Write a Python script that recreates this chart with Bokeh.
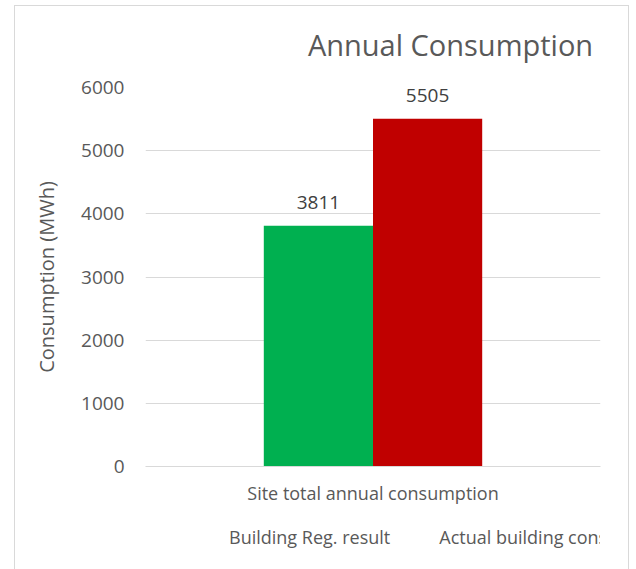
from bokeh.plotting import figure
from bokeh.layouts import column
from bokeh.models import (FactorRange, ColumnDataSource, Legend, LegendItem,
                          LabelSet, Label, FixedTicker)
from bokeh.transform import dodge
from bokeh.embed import file_html
from bokeh.resources import INLINE
from bokeh.core.properties import value

# ---- data ----
categories = ["Site total annual consumption"]
series_names = ["Building Reg. result", "Actual building consumption"]
building_reg = [3811]
actual = [5505]
y_ticks = [0, 1000, 2000, 3000, 4000, 5000, 6000]
colors = ["#00B050", "#C00000"]
title_text = "Annual Consumption"

FONT = "Open Sans"
TXT = "#595959"

src = ColumnDataSource(dict(cat=categories, reg=building_reg, act=actual,
                            reg_lbl=[str(v) for v in building_reg],
                            act_lbl=[str(v) for v in actual]))

# ---- title strip ----
p0 = figure(width=613, height=69, x_range=(0, 1), y_range=(0, 1),
            x_axis_type=None, y_axis_type=None, output_backend="svg",
            toolbar_location=None, min_border=0)
p0.outline_line_color = None
p0.xgrid.visible = False
p0.ygrid.visible = False
p0.add_layout(Label(x=305, y=31, x_units="screen", y_units="screen",
                    text=title_text, text_align="center", text_baseline="middle",
                    text_font=FONT, text_font_size="29px", text_color=TXT))

# ---- main chart ----
p = figure(x_range=FactorRange(*categories), y_range=(0, 6000),
           frame_width=455, frame_height=379, output_backend="svg",
           toolbar_location=None,
           min_border_left=130, min_border_right=28, min_border_top=12,
           min_border_bottom=54)
p.outline_line_color = None
p.x_range.range_padding = 0

r1 = p.vbar(x=dodge("cat", -0.12, range=p.x_range), top="reg", width=0.24,
            source=src, fill_color=colors[0], line_color=None)
r2 = p.vbar(x=dodge("cat", 0.12, range=p.x_range), top="act", width=0.24,
            source=src, fill_color=colors[1], line_color=None)

for xoff, col, lab in [(-0.12, "reg", "reg_lbl"), (0.12, "act", "act_lbl")]:
    p.add_layout(LabelSet(x=dodge("cat", xoff, range=p.x_range), y=col, text=lab,
                          source=src, text_align="center", text_baseline="bottom",
                          y_offset=17, text_font=value(FONT), text_font_size="19px",
                          text_color="#404040"))

p.yaxis.ticker = FixedTicker(ticks=y_ticks)
p.yaxis.axis_line_color = None
p.yaxis.major_tick_line_color = None
p.yaxis.minor_tick_line_color = None
p.yaxis.major_label_text_font = FONT
p.yaxis.major_label_text_font_size = "19px"
p.yaxis.major_label_text_color = TXT
p.yaxis.major_label_standoff = 15
p.yaxis.axis_label = "Consumption (MWh)"
p.yaxis.axis_label_text_font = FONT
p.yaxis.axis_label_text_font_size = "20px"
p.yaxis.axis_label_text_font_style = "normal"
p.yaxis.axis_label_text_color = TXT
p.yaxis.axis_label_standoff = 18

p.xaxis.axis_line_color = "#d9d9d9"
p.xaxis.major_tick_line_color = None
p.xaxis.minor_tick_line_color = None
p.xaxis.major_label_text_font = FONT
p.xaxis.major_label_text_font_size = "18px"
p.xaxis.major_label_text_color = TXT
p.xaxis.major_label_standoff = 8

p.xgrid.grid_line_color = None
p.ygrid.grid_line_color = "#d9d9d9"
p.ygrid.ticker = FixedTicker(ticks=y_ticks)

# ---- legend strip ----
p2 = figure(width=613, height=49, x_range=(0, 1), y_range=(0, 1),
            x_axis_type=None, y_axis_type=None, output_backend="svg",
            toolbar_location=None, min_border=0)
p2.outline_line_color = None
p2.xgrid.visible = False
p2.ygrid.visible = False
g1 = p2.vbar(x=[], top=[], width=0.1, fill_color=colors[0], line_color=None)
g2 = p2.vbar(x=[], top=[], width=0.1, fill_color=colors[1], line_color=None)
legend = Legend(items=[LegendItem(label=series_names[0], renderers=[g1]),
                       LegendItem(label=series_names[1], renderers=[g2])],
                orientation="horizontal", location=(67, 20),
                label_text_font=FONT, label_text_font_size="18px",
                label_text_color=TXT, glyph_width=10, glyph_height=10,
                spacing=32, label_standoff=7, border_line_color=None,
                background_fill_alpha=0, padding=0, margin=0)
p2.add_layout(legend)

layout = column(p0, p, p2, spacing=0)
layout.styles = {"margin-left": "14px", "margin-top": "5px",
                 "border": "1px solid #d9d9d9"}

open("out.html", "w").write(file_html(layout, INLINE))
